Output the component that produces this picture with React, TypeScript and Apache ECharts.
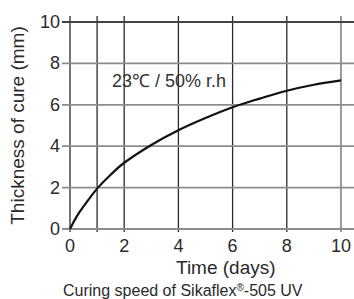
import React, { useEffect, useRef } from "react";
import * as echarts from "echarts";

const curveX = [0, 0.25, 0.5, 1, 1.5, 2, 3, 4, 5, 6, 7, 8, 9, 10];
const curveY = [0, 0.61, 1.09, 1.95, 2.62, 3.2, 4.06, 4.77, 5.36, 5.88, 6.3, 6.68, 6.97, 7.18];
const xGridLines = [0, 1, 2, 4, 6, 8, 10];
const yGridLines = [0, 2, 4, 6, 8, 10];
const xTickLabels = [0, 2, 4, 6, 8, 10];
const yTickLabels = [0, 2, 4, 6, 8, 10];

const FONT = "'Liberation Sans', Arial, Helvetica, sans-serif";
const TEXT = "#2a2a2a";

export default function App() {
  const ref = useRef<HTMLDivElement>(null);
  useEffect(() => {
    if (!ref.current) return;
    const chart = echarts.init(ref.current, null, { renderer: "svg" });
    const vLineColor = (v: number) => (v === 10 ? "#9a9a9a" : "#2a2a2a");
    chart.setOption({
      animation: false,
      backgroundColor: "#fff",
      textStyle: { fontFamily: FONT },
      grid: { left: 68, right: 13, top: 22, bottom: 70 },
      title: {
        text: "Curing speed of Sikaflex{sup|®}-505 UV",
        left: 63,
        top: 282,
        padding: 0,
        textStyle: {
          fontFamily: FONT,
          fontSize: 16,
          fontWeight: "normal",
          color: TEXT,
          rich: {
            sup: { fontSize: 10, verticalAlign: "top", color: TEXT, fontFamily: FONT, padding: [0, 0, 6, 0] },
          },
        },
      },
      xAxis: {
        type: "value",
        min: 0,
        max: 10,
        interval: 2,
        axisLine: { show: false },
        axisTick: { show: false },
        splitLine: { show: false },
        axisLabel: {
          margin: 8,
          fontSize: 18,
          color: TEXT,
          fontFamily: FONT,
          formatter: (v: number) => (xTickLabels.includes(v) ? String(v) : ""),
        },
      },
      yAxis: {
        type: "value",
        min: 0,
        max: 10,
        interval: 2,
        name: "Thickness of cure (mm)",
        nameLocation: "middle",
        nameGap: 43,
        nameTextStyle: { fontSize: 19, color: TEXT, fontFamily: FONT },
        axisLine: { show: false },
        axisTick: { show: false },
        splitLine: { show: false },
        axisLabel: {
          margin: 10,
          fontSize: 18,
          color: TEXT,
          fontFamily: FONT,
          formatter: (v: number) => (yTickLabels.includes(v) ? String(v) : ""),
        },
      },
      graphic: [
        {
          type: "text",
          left: 176,
          top: 258,
          style: { text: "Time (days)", fontSize: 19, fill: TEXT, fontFamily: FONT },
        },
        {
          type: "text",
          left: 112,
          top: 72,
          style: { text: "23℃ / 50% r.h", fontSize: 18, fill: "#333", fontFamily: FONT },
        },
      ],
      series: [
        {
          type: "custom",
          silent: true,
          data: xGridLines.map((x) => [x, 0]),
          renderItem: (params: any, api: any) => {
            const v = api.value(0);
            const top = api.coord([v, 10]);
            const bot = api.coord([v, 0]);
            return {
              type: "line",
              shape: { x1: top[0], y1: top[1] - 6, x2: bot[0], y2: bot[1] + 3 },
              style: { stroke: vLineColor(v), lineWidth: v === 10 ? 2 : 1.3 },
            };
          },
          z: 1,
        },
        {
          type: "custom",
          silent: true,
          data: yGridLines.map((y) => [0, y]),
          renderItem: (params: any, api: any) => {
            const v = api.value(1);
            const l = api.coord([0, v]);
            const r = api.coord([10, v]);
            return {
              type: "line",
              shape: { x1: l[0] - 8, y1: l[1], x2: r[0] + 14, y2: r[1] },
              style: { stroke: v === 10 ? "#444" : "#8c8c8c", lineWidth: 1.8 },
            };
          },
          z: 1,
        },
        {
          type: "line",
          data: curveX.map((x, i) => [x, curveY[i]]),
          smooth: 0.4,
          showSymbol: false,
          symbol: "none",
          lineStyle: { color: "#111", width: 2.2 },
          z: 3,
        },
      ],
    });
    return () => chart.dispose();
  }, []);
  return (
    <div
      ref={ref}
      style={{ position: "fixed", left: 0, top: 0, width: 354, height: 299 }}
    />
  );
}
